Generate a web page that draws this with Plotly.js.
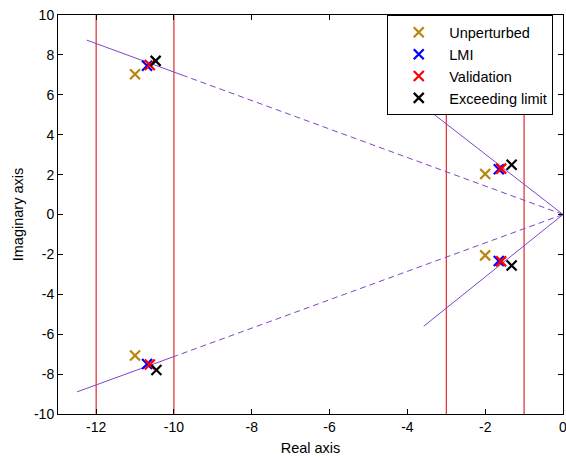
<!DOCTYPE html>
<html>
<head>
<meta charset="utf-8">
<script src="https://cdn.plot.ly/plotly-3.0.1.min.js"></script>
<style>html,body{margin:0;padding:0;background:#fff;} #chart{width:566px;height:457px;}</style>
</head>
<body>
<div id="chart"></div>
<script>
// Pole locations (real, imaginary)
const unperturbedRe = [-11.0, -11.0, -2.0, -2.0];
const unperturbedIm = [7.03, -7.07, 2.03, -2.05];
const lmiRe = [-10.69, -10.69, -1.65, -1.65];
const lmiIm = [7.46, -7.49, 2.27, -2.33];
const validationRe = [-10.62, -10.62, -1.59, -1.59];
const validationIm = [7.49, -7.52, 2.30, -2.35];
const exceedingRe = [-10.47, -10.45, -1.32, -1.32];
const exceedingIm = [7.70, -7.79, 2.49, -2.56];

// Vertical real-part limits
const limitRe = [-12, -10, -3, -1];

// Tick values and labels
const xTickVals = [-12, -10, -8, -6, -4, -2, 0];
const xTickText = ['-12', '-10', '-8', '-6', '-4', '-2', '0'];
const yTickVals = [-10, -8, -6, -4, -2, 0, 2, 4, 6, 8, 10];
const yTickText = ['-10', '-8', '-6', '-4', '-2', '0', '2', '4', '6', '8', '10'];

// Damping rays from origin: dashed part then solid part
const rayLeftUpDashRe = [0, -9.65];
const rayLeftUpDashIm = [0, 6.89];
const rayLeftUpSolidRe = [-9.65, -12.24];
const rayLeftUpSolidIm = [6.89, 8.74];
const rayLeftDnDashRe = [0, -9.9];
const rayLeftDnDashIm = [0, -7.05];
const rayLeftDnSolidRe = [-9.9, -12.49];
const rayLeftDnSolidIm = [-7.05, -8.89];
const rayRightUpRe = [0, -3.6];
const rayRightUpIm = [0, 5.45];
const rayRightDnRe = [0, -3.58];
const rayRightDnIm = [0, -5.6];

const purple = '#8244c8';
const limX = [], limY = [];
limitRe.forEach(v => { limX.push(v, v, null); limY.push(-10, 10, null); });

const lineTrace = (x, y, dash) => ({
  x: x, y: y, mode: 'lines', showlegend: false, hoverinfo: 'skip',
  line: {color: purple, width: 1, dash: dash}
});
const markerTrace = (x, y, name, color) => ({
  x: x, y: y, mode: 'markers', name: name,
  marker: {symbol: 'x-thin-open', size: 10, color: color, line: {color: color, width: 2.2}}
});

const data = [
  {x: limX, y: limY, mode: 'lines', showlegend: false, hoverinfo: 'skip', line: {color: '#d40000', width: 1}},
  lineTrace(rayLeftUpDashRe, rayLeftUpDashIm, '6px,4px'),
  lineTrace(rayLeftUpSolidRe, rayLeftUpSolidIm, 'solid'),
  lineTrace(rayLeftDnDashRe, rayLeftDnDashIm, '6px,4px'),
  lineTrace(rayLeftDnSolidRe, rayLeftDnSolidIm, 'solid'),
  lineTrace(rayRightUpRe, rayRightUpIm, 'solid'),
  lineTrace(rayRightDnRe, rayRightDnIm, 'solid'),
  markerTrace(unperturbedRe, unperturbedIm, 'Unperturbed', '#b8860b'),
  markerTrace(lmiRe, lmiIm, 'LMI', '#0000ff'),
  markerTrace(validationRe, validationIm, 'Validation', '#ff0000'),
  markerTrace(exceedingRe, exceedingIm, 'Exceeding limit', '#000000')
];

const axisCommon = {
  showgrid: false, zeroline: false, showline: true, linecolor: '#000', linewidth: 1,
  mirror: 'ticks', ticks: 'inside', ticklen: 5, tickcolor: '#000', tickwidth: 1,
  ticklabeloverflow: 'allow',
  tickfont: {family: 'Liberation Sans, Arial, sans-serif', size: 14, color: '#000'}
};

const layout = {
  width: 566, height: 457,
  margin: {l: 58, r: 3, t: 15, b: 43},
  paper_bgcolor: '#fff', plot_bgcolor: '#fff',
  font: {family: 'Liberation Sans, Arial, sans-serif', size: 14, color: '#000'},
  xaxis: Object.assign({}, axisCommon, {
    range: [-12.98, 0], tickmode: 'array', tickvals: xTickVals, ticktext: xTickText,
    title: {text: 'Real axis', font: {size: 14.5}, standoff: 9}
  }),
  yaxis: Object.assign({}, axisCommon, {
    range: [-10, 10], tickmode: 'array', tickvals: yTickVals, ticktext: yTickText,
    title: {text: 'Imaginary axis', font: {size: 14.5}, standoff: 6}
  }),
  showlegend: true,
  legend: {
    x: 0.652, y: 0.999, xanchor: 'left', yanchor: 'top',
    bgcolor: '#fff', bordercolor: '#000', borderwidth: 1,
    font: {size: 14.5}, itemwidth: 51, tracegroupgap: 0
  }
};

Plotly.newPlot('chart', data, layout, {displayModeBar: false, staticPlot: true});
</script>
</body>
</html>
